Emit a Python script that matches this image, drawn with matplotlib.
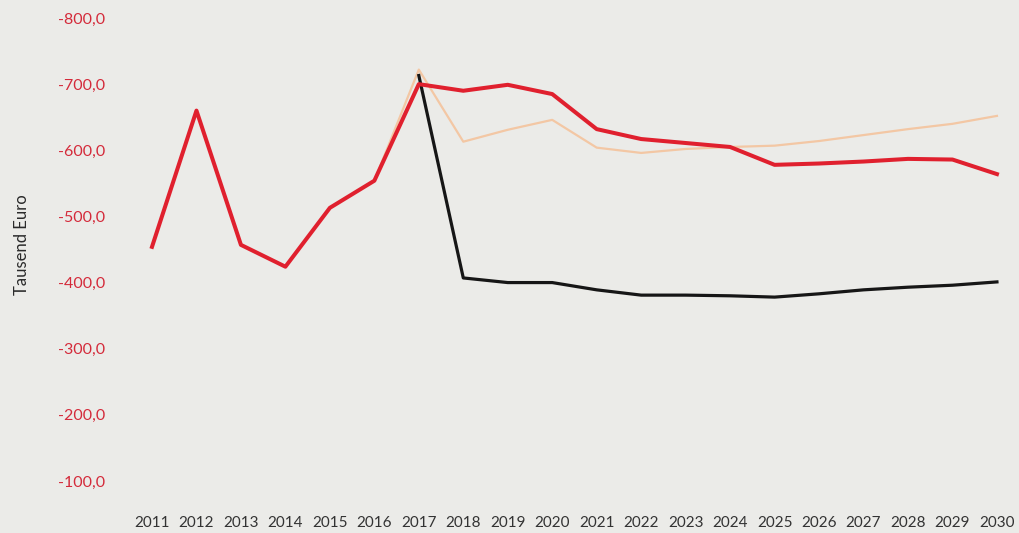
import numpy as np
import matplotlib
matplotlib.use('Agg')
import matplotlib.pyplot as plt
from matplotlib.ticker import FuncFormatter

years = list(range(2011, 2031))

# red series (all years)
red_vals = [-454, -660, -457, -424, -513, -554, -700, -690, -699, -685,
            -632, -617, -611, -605, -578, -580, -583, -587, -586, -564]

# black series starts 2017
black_years = list(range(2017, 2031))
black_vals = [-713, -407, -400, -400, -389, -381, -381, -380, -378, -383,
              -389, -393, -396, -401]

# pale orange series starts 2016
orange_years = list(range(2016, 2031))
orange_vals = [-554, -722, -613, -631, -646, -604, -596, -602, -605, -607,
               -614, -623, -632, -640, -652]

yticks = [-800, -700, -600, -500, -400, -300, -200, -100]

bg = '#ebebe8'
plt.rcParams['font.family'] = ['Lato', 'DejaVu Sans']

fig = plt.figure(figsize=(10.2, 5.33), dpi=100, facecolor=bg)
# axes in pixel coords: x 125..1015, y 10..505 (from top)
ax = fig.add_axes([125 / 1020, (533 - 505) / 533, 890 / 1020, 495 / 533])
ax.set_facecolor(bg)

ax.plot(orange_years, orange_vals, color='#f3c7a4', lw=1.6, zorder=2)
ax.plot(black_years, black_vals, color='#161616', lw=2.3, zorder=3)
ax.plot(years, red_vals, color='#e0202e', lw=2.9, zorder=4, solid_joinstyle='round')

ax.set_xlim(2010.393, 2030.406)
ax.set_ylim(-63.7, -812.1)

ax.set_xticks(years)
ax.set_xticklabels([str(y) for y in years], fontsize=11, color='#333333')
ax.set_yticks(yticks)
ax.yaxis.set_major_formatter(FuncFormatter(lambda v, p: '{:.1f}'.format(v).replace('.', ',')))
ax.tick_params(axis='y', colors='#d42a3a', labelsize=11.5, length=0, pad=14)
ax.tick_params(axis='x', length=0, pad=8)

for s in ax.spines.values():
    s.set_visible(False)

fig.text(22 / 1020, 1 - 245 / 533, 'Tausend Euro', rotation=90, fontsize=12,
         color='#2a2a2a', ha='center', va='center')

fig.savefig('out.png', dpi=100, facecolor=bg)
